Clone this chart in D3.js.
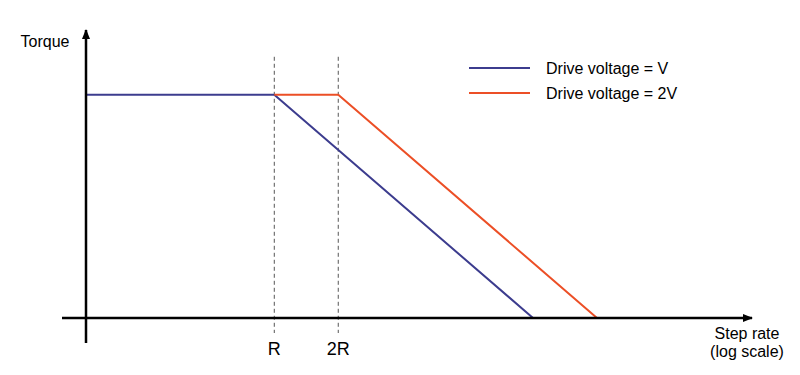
<!DOCTYPE html>
<html>
<head>
  <meta charset="utf-8">
  <title>Torque vs step rate</title>
  <style>
    body { margin: 0; background: #fff; }
    text { font-family: "Liberation Sans", Arial, sans-serif; font-size: 16px; fill: #000; }
    .tick-label { font-size: 18px; }
  </style>
</head>
<body>
  <script src="https://cdn.jsdelivr.net/npm/d3@7"></script>
  <script>
    // step rate in multiples of R (log axis), torque relative to holding level
    var seriesNames = ["Drive voltage = V", "Drive voltage = 2V"];
    var seriesColors = ["#3c3c8e", "#ec4f26"];
    var rateV = [0.13, 1, 16.5];
    var torqueV = [1, 1, 0];
    var rate2V = [1, 2, 33];
    var torque2V = [1, 1, 0];
    var tickRates = [1, 2];
    var tickLabels = ["R", "2R"];

    var width = 800, height = 375;

    // x: log scale, y: linear
    var x = d3.scaleLog().domain([0.13, 177]).range([86, 752]);
    var y = d3.scaleLinear().domain([0, 1.29]).range([318, 30]);

    var svg = d3.select("body").append("svg")
      .attr("width", width)
      .attr("height", height);

    var x0 = x(rateV[0]), y0 = y(0);

    // dashed guides at R and 2R
    svg.selectAll(".guide")
      .data(tickRates)
      .enter().append("line")
      .attr("class", "guide")
      .attr("x1", function(d) { return x(d); })
      .attr("x2", function(d) { return x(d); })
      .attr("y1", y(1.17))
      .attr("y2", y0 + 15)
      .attr("stroke", "#555")
      .attr("stroke-width", 1)
      .attr("stroke-dasharray", "4,3");

    svg.selectAll(".tick-label")
      .data(tickRates)
      .enter().append("text")
      .attr("class", "tick-label")
      .attr("x", function(d) { return x(d); })
      .attr("y", y0 + 37)
      .attr("text-anchor", "middle")
      .text(function(d, i) { return tickLabels[i]; });

    // series lines
    var line = d3.line()
      .x(function(d) { return x(d[0]); })
      .y(function(d) { return y(d[1]); });

    var series = [d3.zip(rateV, torqueV), d3.zip(rate2V, torque2V)];

    svg.selectAll(".series")
      .data(series)
      .enter().append("path")
      .attr("class", "series")
      .attr("d", line)
      .attr("fill", "none")
      .attr("stroke", function(d, i) { return seriesColors[i]; })
      .attr("stroke-width", 2);

    // axes with arrow heads
    svg.append("defs").append("marker")
      .attr("id", "arrow")
      .attr("viewBox", "0 0 10 10")
      .attr("refX", 9).attr("refY", 5)
      .attr("markerWidth", 4).attr("markerHeight", 4)
      .attr("markerUnits", "strokeWidth")
      .attr("orient", "auto")
      .append("path")
      .attr("d", "M0,1 L10,5 L0,9 Z")
      .attr("fill", "#000");

    svg.append("line")
      .attr("x1", x0 - 24).attr("x2", x.range()[1])
      .attr("y1", y0).attr("y2", y0)
      .attr("stroke", "#000").attr("stroke-width", 2.5)
      .attr("marker-end", "url(#arrow)");

    svg.append("line")
      .attr("x1", x0).attr("x2", x0)
      .attr("y1", y0 + 25).attr("y2", y.range()[1])
      .attr("stroke", "#000").attr("stroke-width", 2.5)
      .attr("marker-end", "url(#arrow)");

    // axis titles
    svg.append("text")
      .attr("x", 45).attr("y", 47)
      .attr("text-anchor", "middle")
      .text("Torque");

    var xt = svg.append("text")
      .attr("text-anchor", "middle");
    xt.append("tspan").attr("x", 747).attr("y", 339).text("Step rate");
    xt.append("tspan").attr("x", 747).attr("y", 357).text("(log scale)");

    // legend
    var legend = svg.selectAll(".legend")
      .data(seriesNames)
      .enter().append("g")
      .attr("class", "legend")
      .attr("transform", function(d, i) { return "translate(469," + (68 + i * 25) + ")"; });

    legend.append("line")
      .attr("x1", 0).attr("x2", 61)
      .attr("stroke", function(d, i) { return seriesColors[i]; })
      .attr("stroke-width", 2);

    legend.append("text")
      .attr("x", 77).attr("y", 5.5)
      .text(function(d) { return d; });
  </script>
</body>
</html>
